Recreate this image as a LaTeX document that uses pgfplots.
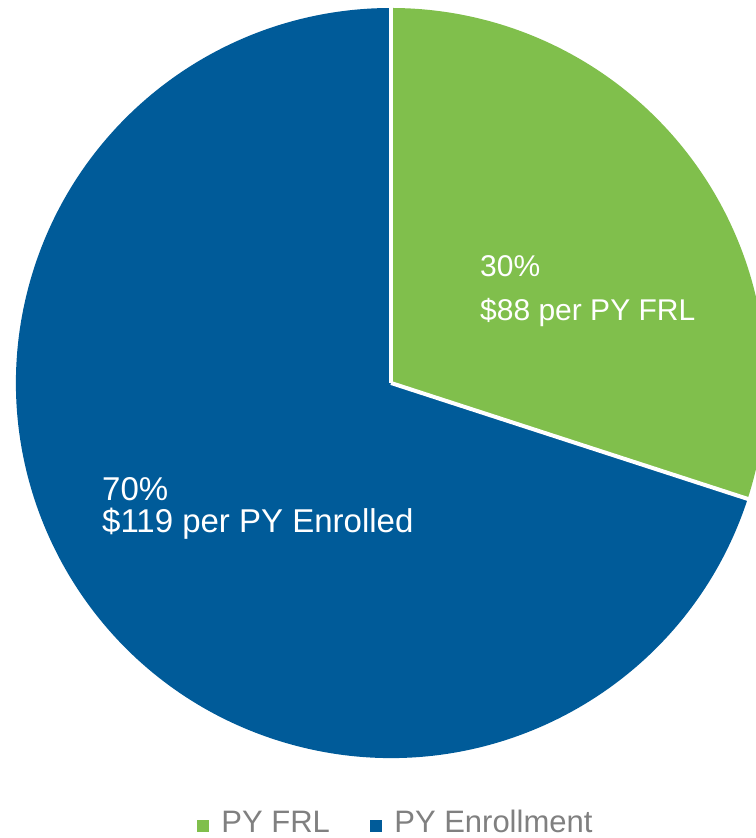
\documentclass[border=0pt]{standalone}
\usepackage{pgfplots}
\usepackage{pgfplotstable}
\pgfplotsset{compat=1.18}
\usepackage{fontspec}
\setmainfont{Liberation Sans}
\definecolor{pygreen}{RGB}{128,191,76}
\definecolor{pyblue}{RGB}{0,91,153}
\definecolor{leggray}{RGB}{128,128,128}
\pgfplotstableread{
label value
FRL 30
Enrollment 70
}\piedata
\begin{document}
\begin{tikzpicture}
\pgfplotstablegetelem{0}{value}\of\piedata \pgfmathsetmacro{\va}{\pgfplotsretval}
\pgfplotstablegetelem{1}{value}\of\piedata \pgfmathsetmacro{\vb}{\pgfplotsretval}
\pgfmathsetmacro{\aA}{90}
\pgfmathsetmacro{\aB}{90-3.6*\va}
\pgfmathsetmacro{\aC}{\aB-3.6*\vb}
\begin{axis}[
  scale only axis, width=756bp, height=838bp,
  xmin=-391, xmax=365, ymin=-455, ymax=383,
  hide axis, clip=true,
  legend columns=2,
  legend image code/.code={\fill[#1] (0bp,1bp) rectangle (11bp,12bp);},
  legend style={at={(axis cs:-194,-449)}, anchor=base west, draw=none, fill=none,
    inner sep=0pt, outer sep=0pt, font=\fontsize{31bp}{36bp}\selectfont, text=leggray,
    nodes={inner sep=0pt, anchor=base west},
    /tikz/every odd column/.append style={column sep=13bp},
    /tikz/every even column/.append style={column sep=40bp}},
]
\addlegendimage{pygreen}
\addlegendentry{PY FRL}
\addlegendimage{pyblue}
\addlegendentry{PY Enrollment}
\fill[pygreen] (axis cs:0,0) -- ++(\aA:375bp) arc[start angle=\aA, end angle=\aB, radius=375bp] -- cycle;
\fill[pyblue] (axis cs:0,0) -- ++(\aB:375bp) arc[start angle=\aB, end angle=\aC, radius=375bp] -- cycle;
\draw[white, line width=4bp] (axis cs:0,0) -- ++(\aA:380bp);
\draw[white, line width=4bp] (axis cs:0,0) -- ++(\aB:380bp);
\node[anchor=base west, inner sep=0pt, text=white, font=\fontsize{30bp}{34bp}\selectfont] at (axis cs:89,106) {30\%};
\node[anchor=base west, inner sep=0pt, text=white, font=\fontsize{30bp}{34bp}\selectfont] at (axis cs:89,62) {\$88 per PY FRL};
\node[anchor=base west, inner sep=0pt, text=white, font=\fontsize{33bp}{36bp}\selectfont] at (axis cs:-289,-118) {70\%};
\node[anchor=base west, inner sep=0pt, text=white, font=\fontsize{33bp}{36bp}\selectfont] at (axis cs:-289,-150) {\$119 per PY Enrolled};
\end{axis}
\pgfresetboundingbox
\path[use as bounding box] (current axis.south west) rectangle (current axis.north east);
\end{tikzpicture}
\end{document}
